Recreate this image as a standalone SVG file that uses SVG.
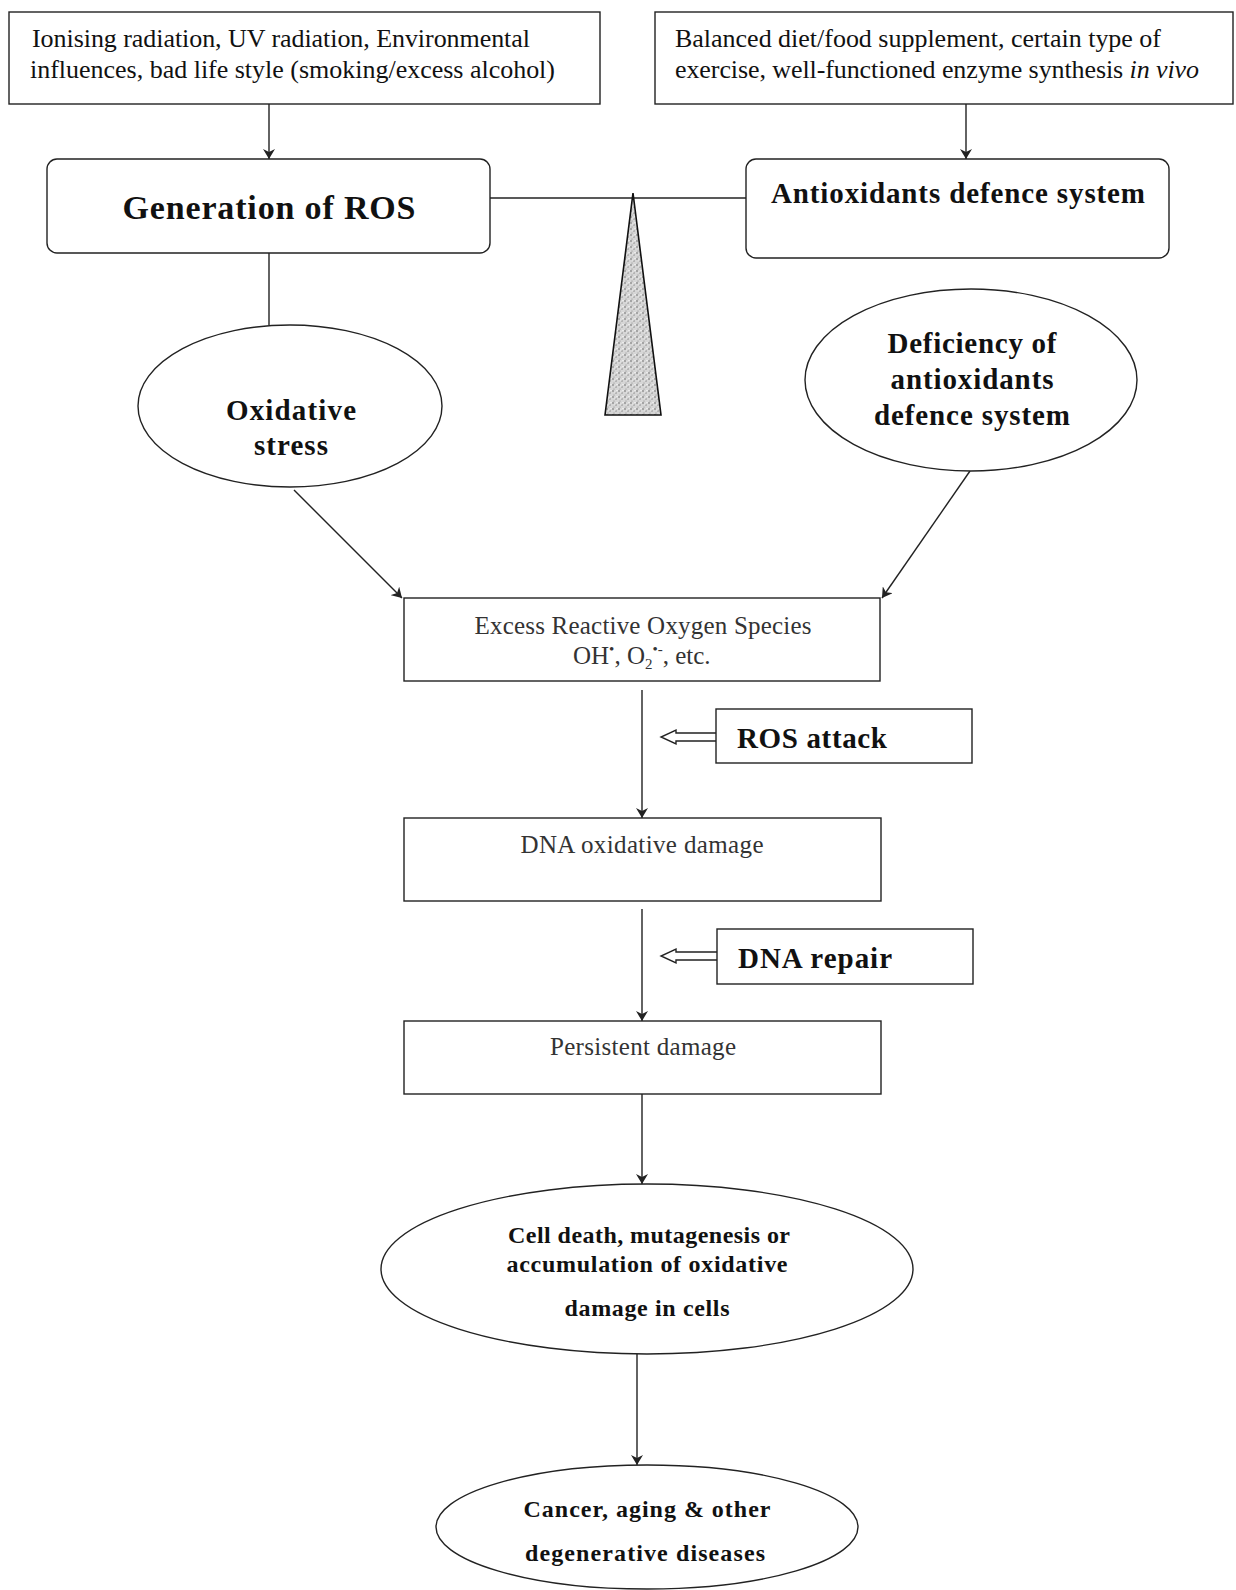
<svg xmlns="http://www.w3.org/2000/svg" width="1236" height="1590" viewBox="0 0 1236 1590">
<defs>
<style>
.box{fill:#fff;stroke:#222;stroke-width:1.4}
.ln{fill:none;stroke:#222;stroke-width:1.4}
.arr{fill:none;stroke:#222;stroke-width:1.4;marker-end:url(#ah)}
.t{font-family:"Liberation Serif","Times New Roman",serif;fill:#111}
.n{font-size:26px}
.s{font-size:25px;fill:#333}
.b{font-weight:bold}
.c{text-anchor:middle}
.m{font-size:29px}
.e{font-size:24px}
</style>
<marker id="ah" viewBox="0 0 10 12" refX="10" refY="6" markerWidth="10" markerHeight="12" markerUnits="userSpaceOnUse" orient="auto">
<path d="M0,0 L10,6 L0,12 L3,6 Z" fill="#222"/>
</marker>
<pattern id="stip" width="6" height="6" patternUnits="userSpaceOnUse">
<rect width="6" height="6" fill="#d6d6d6"/>
<circle cx="1" cy="1" r="0.8" fill="#666"/>
<circle cx="4" cy="3" r="0.7" fill="#777"/>
<circle cx="2" cy="5" r="0.6" fill="#888"/>
<circle cx="5" cy="0.5" r="0.6" fill="#fff"/>
<circle cx="3" cy="2" r="0.6" fill="#fff"/>
</pattern>
</defs>
<rect width="1236" height="1590" fill="#fff"/>

<g id="connectors">
<line class="arr" x1="269" y1="104" x2="269" y2="159"/>
<line class="arr" x1="966" y1="104" x2="966" y2="159"/>
<line class="ln" x1="490" y1="198" x2="746" y2="198"/>
<line class="ln" x1="269" y1="253" x2="269" y2="325"/>
<line class="arr" x1="294" y1="490" x2="402" y2="598"/>
<line class="arr" x1="970" y1="471" x2="882" y2="598"/>
<line class="arr" x1="642" y1="690" x2="642" y2="818"/>
<line class="arr" x1="642" y1="909" x2="642" y2="1021"/>
<line class="arr" x1="642" y1="1094" x2="642" y2="1184"/>
<line class="arr" x1="637" y1="1353" x2="637" y2="1465"/>
<path class="ln" d="M716,733 L676,733 L676,730 L661,737 L676,744 L676,741 L716,741" fill="#fff"/>
<path class="ln" d="M717,952 L676,952 L676,949 L661,956 L676,963 L676,960 L717,960" fill="#fff"/>
</g>

<g id="balance">
<polygon points="633,193 661,415 605,415" fill="url(#stip)" stroke="#111" stroke-width="1.6"/>
</g>

<g id="n-causes">
<rect class="box" x="9" y="12" width="591" height="92"/>
<text class="t n" x="32" y="47" textLength="498" lengthAdjust="spacing">Ionising radiation, UV radiation, Environmental</text>
<text class="t n" x="30" y="78" textLength="525" lengthAdjust="spacing">influences, bad life style (smoking/excess alcohol)</text>
</g>

<g id="n-protect">
<rect class="box" x="655" y="12" width="578" height="92"/>
<text class="t n" x="675" y="47" textLength="486" lengthAdjust="spacing">Balanced diet/food supplement, certain type of</text>
<text class="t n" x="675" y="78" textLength="524" lengthAdjust="spacing">exercise, well-functioned enzyme synthesis <tspan font-style="italic">in vivo</tspan></text>
</g>

<g id="n-generation">
<rect class="box" x="47" y="159" width="443" height="94" rx="10"/>
<text class="t b c" x="269" y="219" font-size="34" textLength="293" lengthAdjust="spacing">Generation of ROS</text>
</g>

<g id="n-antioxidants">
<rect class="box" x="746" y="159" width="423" height="99" rx="10"/>
<text class="t b c" x="958" y="203" font-size="29" textLength="374" lengthAdjust="spacing">Antioxidants defence system</text>
</g>

<g id="n-oxstress">
<ellipse class="box" cx="290" cy="406" rx="152" ry="81"/>
<text class="t b c m" x="291" y="420" textLength="130" lengthAdjust="spacing">Oxidative</text>
<text class="t b c m" x="291" y="455" textLength="74" lengthAdjust="spacing">stress</text>
</g>

<g id="n-deficiency">
<ellipse class="box" cx="971" cy="380" rx="166" ry="91"/>
<text class="t b c m" x="972" y="353" textLength="169" lengthAdjust="spacing">Deficiency of</text>
<text class="t b c m" x="972" y="389" textLength="163" lengthAdjust="spacing">antioxidants</text>
<text class="t b c m" x="972" y="425" textLength="196" lengthAdjust="spacing">defence system</text>
</g>

<g id="n-excess">
<rect class="box" x="404" y="598" width="476" height="83"/>
<text class="t s c" x="643" y="634" textLength="337" lengthAdjust="spacing">Excess Reactive Oxygen Species</text>
<text class="t s" x="573" y="664">OH<tspan font-size="15" dy="-10">•</tspan><tspan dy="10">, O</tspan><tspan font-size="15" dy="5">2</tspan><tspan font-size="15" dy="-15">•-</tspan><tspan dy="10">, etc.</tspan></text>
</g>

<g id="n-rosattack">
<rect class="box" x="716" y="709" width="256" height="54"/>
<text class="t b m" x="737" y="748" textLength="150" lengthAdjust="spacing">ROS attack</text>
</g>

<g id="n-dnadamage">
<rect class="box" x="404" y="818" width="477" height="83"/>
<text class="t s c" x="642" y="853" textLength="243" lengthAdjust="spacing">DNA oxidative damage</text>
</g>

<g id="n-dnarepair">
<rect class="box" x="717" y="929" width="256" height="55"/>
<text class="t b m" x="738" y="968" textLength="154" lengthAdjust="spacing">DNA repair</text>
</g>

<g id="n-persistent">
<rect class="box" x="404" y="1021" width="477" height="73"/>
<text class="t s c" x="643" y="1055" textLength="186" lengthAdjust="spacing">Persistent damage</text>
</g>

<g id="n-celldeath">
<ellipse class="box" cx="647" cy="1269" rx="266" ry="85"/>
<text class="t b c e" x="649" y="1243" textLength="282" lengthAdjust="spacing">Cell death, mutagenesis or</text>
<text class="t b c e" x="647" y="1272" textLength="281" lengthAdjust="spacing">accumulation of oxidative</text>
<text class="t b c e" x="647" y="1316" textLength="165" lengthAdjust="spacing">damage in cells</text>
</g>

<g id="n-cancer">
<ellipse class="box" cx="647" cy="1527" rx="211" ry="62"/>
<text class="t b c e" x="647" y="1517" textLength="247" lengthAdjust="spacing">Cancer, aging &amp; other</text>
<text class="t b c e" x="645" y="1561" textLength="240" lengthAdjust="spacing">degenerative diseases</text>
</g>
</svg>
